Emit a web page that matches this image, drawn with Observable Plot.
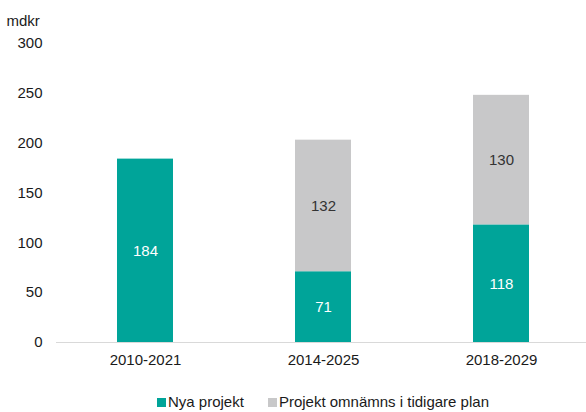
<!DOCTYPE html>
<html>
<head>
<meta charset="utf-8">
<script src="https://cdn.jsdelivr.net/npm/d3@7"></script>
<script src="https://cdn.jsdelivr.net/npm/@observablehq/plot@0.6"></script>
<style>
  html, body { margin: 0; padding: 0; background: #fff; }
  #wrap { position: relative; width: 586px; height: 412px; font-family: "Liberation Sans", Arial, sans-serif; }
  #legend { position: absolute; left: 157px; top: 393px; display: flex; align-items: center; font-size: 15px; color: #1a1a1a; white-space: nowrap; }
  .item { display: flex; align-items: center; margin-right: 24px; }
  .sw { width: 9px; height: 9px; margin-right: 2px; margin-top: 1px; }
</style>
</head>
<body>
<div id="wrap"></div>
<script>
const periods = ["2010-2021", "2014-2025", "2018-2029"];
const nyaProjekt = [184, 71, 118];
const tidigarePlan = [0, 132, 130];
const seriesNames = ["Nya projekt", "Projekt omnämns i tidigare plan"];
const seriesColors = ["#00a499", "#c8c8c9"];
const yTicks = [0, 50, 100, 150, 200, 250, 300];
const unitLabel = "mdkr";

const rows = [];
periods.forEach((p, i) => {
  rows.push({period: p, series: seriesNames[0], value: nyaProjekt[i]});
  rows.push({period: p, series: seriesNames[1], value: tidigarePlan[i]});
});

const labelFor = (name) => (d) => (d.series === name && d.value > 0 ? String(d.value) : "");

const chart = Plot.plot({
  width: 586,
  height: 385,
  marginTop: 43,
  marginBottom: 43,
  marginLeft: 56,
  marginRight: 0,
  style: {fontFamily: "Liberation Sans, Arial, sans-serif", fontSize: "15px", color: "#1a1a1a", background: "#fff"},
  x: {domain: periods, range: [55.5, 589.5], paddingInner: 0.6875, paddingOuter: 0.34375, label: null, tickSize: 0, tickPadding: 12},
  y: {domain: [0, 300], range: [342, 43], ticks: yTicks, label: null, tickSize: 0, tickPadding: 14},
  color: {domain: seriesNames, range: seriesColors},
  marks: [
    Plot.barY(rows, Plot.stackY({x: "period", y: "value", fill: "series", z: "series", order: seriesNames})),
    Plot.text(rows, Plot.stackY({
      x: "period", y: "value", z: "series", text: labelFor(seriesNames[0]), fill: "#ffffff", order: seriesNames
    })),
    Plot.text(rows, Plot.stackY({
      x: "period", y: "value", z: "series", text: labelFor(seriesNames[1]), fill: "#333333", order: seriesNames
    })),
    Plot.ruleY([0], {stroke: "#d9d9d9", strokeWidth: 1}),
    Plot.text([unitLabel], {frameAnchor: "top-left", dx: -50, dy: -28, text: d => d, textAnchor: "start", fill: "#1a1a1a"})
  ]
});

const wrap = document.getElementById("wrap");
wrap.appendChild(chart);

const legend = document.createElement("div");
legend.id = "legend";
seriesNames.forEach((name, i) => {
  const item = document.createElement("div");
  item.className = "item";
  const sw = document.createElement("span");
  sw.className = "sw";
  sw.style.background = seriesColors[i];
  const label = document.createElement("span");
  label.textContent = name;
  item.appendChild(sw);
  item.appendChild(label);
  legend.appendChild(item);
});
wrap.appendChild(legend);
</script>
</body>
</html>
